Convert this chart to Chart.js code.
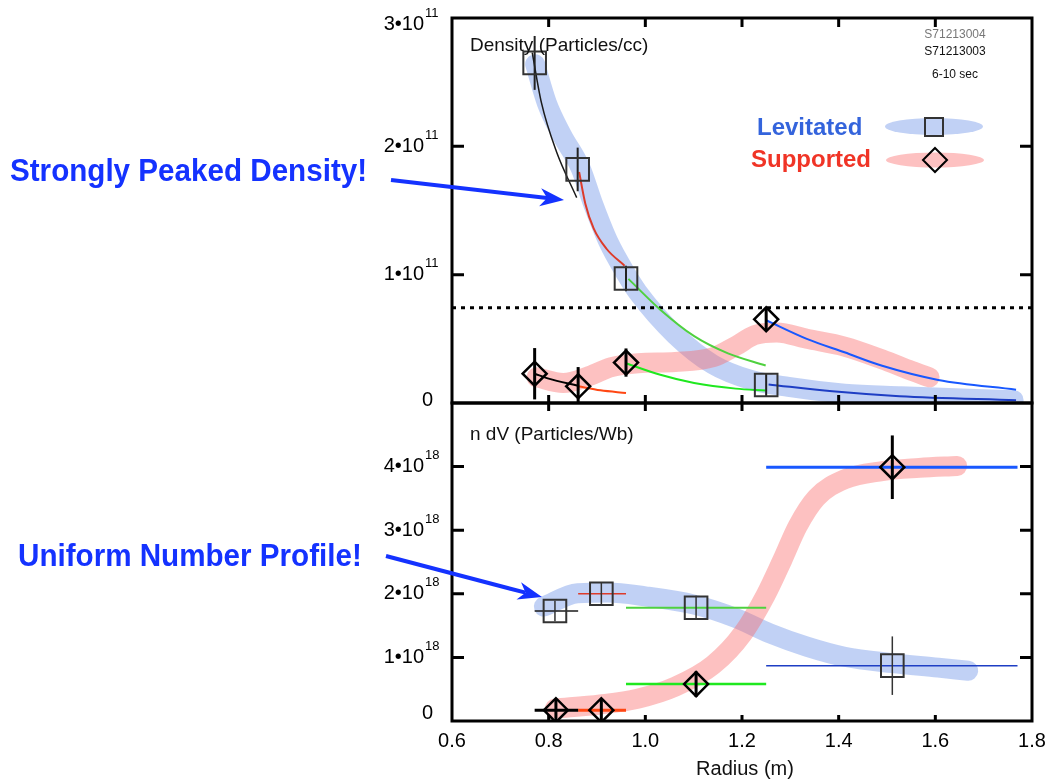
<!DOCTYPE html>
<html>
<head>
<meta charset="utf-8">
<title>Density and n dV profiles</title>
<script src="https://cdn.jsdelivr.net/npm/chart.js@4.4.0/dist/chart.umd.min.js"></script>
<style>
  html, body { margin: 0; padding: 0; background: #fff; }
  #wrap { position: relative; width: 1050px; height: 784px; overflow: hidden;
          font-family: "Liberation Sans", Arial, Helvetica, sans-serif; }
  #wrap canvas, #wrap svg { position: absolute; left: 0; top: 0; }
  .lbl { position: absolute; white-space: nowrap; line-height: 1; transform-origin: 0 0; }
</style>
</head>
<body>
<div id="wrap">
  <canvas id="top" width="1050" height="784"></canvas>
  <canvas id="bot" width="1050" height="784"></canvas>
  <svg id="ann" width="1050" height="784"></svg>
</div>
<script>
// ---- Radius-akse (felles) ----
const xTicks = [0.6, 0.8, 1.0, 1.2, 1.4, 1.6, 1.8];

// ---- Øvre panel: tetthet, enhet 1e11 partikler/cc ----
const densTicks = [0, 1, 2, 3];
const densLimit = 0.743; // prikket linje

const levDensR   = [0.771, 0.860, 0.960, 1.250];
const levDens    = [2.65, 1.82, 0.97, 0.14];
const levDensErr = [0.21, 0.17, 0.10, 0.09];
const supDensR   = [0.771, 0.861, 0.960, 1.250];
const supDens    = [0.228, 0.13, 0.315, 0.652];
const supDensErr = [0.20, 0.15, 0.11, 0.09];

// tilpassede kurver per radialt intervall (levitated)
const levFitR = [
  [0.766, 0.785, 0.816, 0.858],
  [0.863, 0.876, 0.893, 0.920, 0.957],
  [0.965, 1.031, 1.101, 1.171, 1.249],
  [1.255, 1.387, 1.526, 1.767],
];
const levFit = [
  [2.73, 2.34, 1.96, 1.60],
  [1.80, 1.55, 1.36, 1.20, 1.07],
  [0.967, 0.727, 0.521, 0.387, 0.292],
  [0.145, 0.091, 0.053, 0.022],
];
// tilpassede kurver (supported)
const supFitR = [
  [0.771, 0.800, 0.861],
  [0.861, 0.907, 0.960],
  [0.960, 1.031, 1.101, 1.187, 1.249],
  [1.250, 1.334, 1.412, 1.490, 1.606, 1.767],
];
const supFit = [
  [0.228, 0.19, 0.135],
  [0.13, 0.099, 0.078],
  [0.31, 0.22, 0.156, 0.112, 0.097],
  [0.645, 0.50, 0.395, 0.29, 0.18, 0.104],
];

// brede bånd (håndtegnet trend)
const levBandR = [0.772, 0.796, 0.827, 0.866, 0.892, 0.923, 0.961, 0.985, 1.062, 1.140, 1.218, 1.296, 1.412, 1.529, 1.762];
const levBand  = [2.64, 2.34, 2.09, 1.83, 1.55, 1.26, 1.00, 0.86, 0.53, 0.30, 0.18, 0.125, 0.073, 0.053, 0.022];
const supBandR = [0.775, 0.830, 0.884, 0.930, 0.985, 1.062, 1.140, 1.187, 1.226, 1.272, 1.334, 1.412, 1.490, 1.551, 1.588];
const supBand  = [0.20, 0.155, 0.21, 0.28, 0.31, 0.32, 0.356, 0.444, 0.529, 0.55, 0.50, 0.44, 0.34, 0.25, 0.20];

// ---- Nedre panel: n dV, enhet 1e18 partikler/Wb ----
const ndvTicks = [0, 1, 2, 3, 4];
const binLo = [0.771, 0.861, 0.960, 1.250];
const binHi = [0.861, 0.960, 1.250, 1.770];

const levNdvR   = [0.813, 0.909, 1.105, 1.511];
const levNdv    = [1.73, 2.00, 1.78, 0.87];
const levNdvErr = [0.16, 0.17, 0.19, 0.46];
const supNdvR   = [0.815, 0.909, 1.105, 1.511];
const supNdv    = [0.17, 0.17, 0.58, 3.99];
const supNdvErr = [0.17, 0.18, 0.20, 0.50];

const levBandNR = [0.790, 0.860, 0.922, 1.000, 1.101, 1.187, 1.257, 1.334, 1.412, 1.511, 1.606, 1.668];
const levBandN  = [1.80, 2.01, 2.02, 1.96, 1.83, 1.62, 1.38, 1.17, 1.01, 0.91, 0.84, 0.79];
const supBandNR = [0.813, 0.907, 0.984, 1.062, 1.140, 1.202, 1.249, 1.284, 1.315, 1.354, 1.412, 1.490, 1.567, 1.645];
const supBandN  = [0.195, 0.26, 0.35, 0.54, 0.88, 1.38, 1.98, 2.54, 3.06, 3.51, 3.80, 3.93, 3.98, 4.01];

// ---- Stil ----
const FONT = '"Liberation Sans", Arial, Helvetica, sans-serif';
const levBandCol = "rgba(100,140,230,0.4)";
const supBandCol = "rgba(250,100,100,0.4)";
const levFitCols = ["#1a1a1a", "#dd3b2a", "#4fd13f", "#1e3ec4"];
const supFitCols = ["#000000", "#ff4713", "#1fe81f", "#1858ff"];
const annBlue = "#1432ff";

const pts = (xs, ys) => xs.map((x, i) => ({ x, y: ys[i] }));
const curve = (xs, ys, color, width, order) => ({
  data: pts(xs, ys), showLine: true, borderColor: color, borderWidth: width, pointRadius: 0,
  tension: 0.4, cubicInterpolationMode: "monotone", order,
});
const band = (xs, ys, color) => ({
  data: pts(xs, ys), showLine: true, borderColor: color, borderWidth: 20, pointRadius: 0,
  tension: 0.4, cubicInterpolationMode: "monotone", borderCapStyle: "round", borderJoinStyle: "round", order: 20,
});
const vbars = (xs, ys, es, color, width) => xs.map((x, i) => ({
  data: [{ x, y: ys[i] - es[i] }, { x, y: ys[i] + es[i] }], showLine: true,
  borderColor: color, borderWidth: width, pointRadius: 0, order: 5,
}));
const hbars = (ys, colors, widths) => ys.map((y, i) => ({
  data: [{ x: binLo[i], y }, { x: binHi[i], y }], showLine: true,
  borderColor: colors[i], borderWidth: widths[i], pointRadius: 0, order: 6,
}));
const markers = (xs, ys, style, radius, color, width) => ({
  data: pts(xs, ys), showLine: false, pointStyle: style, pointRadius: radius,
  pointBackgroundColor: "rgba(0,0,0,0)", pointBorderColor: color, pointBorderWidth: width, order: 0,
});

// ramme, innadvendte tikkmerker og aksetekster
const framePlugin = {
  id: "frame",
  afterDraw(chart, args, o) {
    const { ctx, chartArea: a } = chart;
    const x = chart.scales.x, y = chart.scales.y;
    ctx.save();
    ctx.strokeStyle = "#000";
    ctx.lineWidth = 3;
    ctx.strokeRect(a.left, a.top, a.right - a.left, a.bottom - a.top);
    ctx.beginPath();
    xTicks.forEach((v) => {
      if (v <= x.min + 1e-9 || v >= x.max - 1e-9) return;
      const px = x.getPixelForValue(v);
      ctx.moveTo(px, a.top); ctx.lineTo(px, a.top + o.xTickTop);
      ctx.moveTo(px, a.bottom); ctx.lineTo(px, a.bottom - o.xTickBottom);
    });
    o.yTicks.forEach((v) => {
      if (v <= y.min || v >= y.max) return;
      const py = y.getPixelForValue(v);
      ctx.moveTo(a.left, py); ctx.lineTo(a.left + 12, py);
      ctx.moveTo(a.right, py); ctx.lineTo(a.right - 12, py);
    });
    ctx.stroke();

    ctx.fillStyle = "#000";
    ctx.textBaseline = "middle";
    o.yTicks.forEach((v) => {
      let py = y.getPixelForValue(v);
      ctx.font = "20px " + FONT;
      ctx.textAlign = "right";
      if (v === 0) { ctx.fillText("0", 433, py + o.zeroShift); return; }
      py = Math.max(py, a.top + 6);
      ctx.fillText(v + "\u202210", 424, py);
      ctx.font = "13px " + FONT;
      ctx.textAlign = "left";
      ctx.fillText(o.exp, 425, py - 11);
    });
    if (o.xLabels) {
      ctx.font = "20px " + FONT;
      ctx.textAlign = "center";
      ctx.textBaseline = "alphabetic";
      xTicks.forEach((v) => ctx.fillText(v.toFixed(1), x.getPixelForValue(v), a.bottom + 26));
    }
    ctx.restore();
  },
};

function options(yMax, pad, frame) {
  return {
    responsive: false, animation: false, events: [],
    layout: { padding: pad },
    plugins: { legend: { display: false }, tooltip: { enabled: false }, frame },
    scales: {
      x: { type: "linear", min: 0.6, max: 1.8, display: false },
      y: { type: "linear", min: 0, max: yMax, display: false },
    },
  };
}

// ---- Øvre diagram ----
const topSets = [
  markers(levDensR, levDens, "rect", 16, "#333", 2),
  markers(supDensR, supDens, "rectRot", 12, "#000", 2.5),
  ...vbars(levDensR, levDens, levDensErr, "#222", 2),
  ...vbars(supDensR, supDens, supDensErr, "#000", 3),
  ...levFitR.map((xs, i) => curve(xs, levFit[i], levFitCols[i], i === 0 ? 1.5 : 2, 10)),
  ...supFitR.map((xs, i) => curve(xs, supFit[i], supFitCols[i], 2, 10)),
  { data: [{ x: 0.6, y: densLimit }, { x: 1.8, y: densLimit }], showLine: true, borderColor: "#000",
    borderWidth: 3, borderDash: [4, 5], pointRadius: 0, order: 12 },
  band(supBandR, supBand, supBandCol),
  band(levBandR, levBand, levBandCol),
];
new Chart(document.getElementById("top"), {
  type: "scatter",
  data: { datasets: topSets },
  options: options(3, { left: 452, right: 17, top: 15, bottom: 381 },
    { yTicks: densTicks, exp: "11", zeroShift: -3, xTickTop: 9, xTickBottom: 8, xLabels: false }),
  plugins: [framePlugin],
});

// ---- Nedre diagram ----
const botSets = [
  markers(levNdvR, levNdv, "rect", 16, "#333", 2),
  markers(supNdvR, supNdv, "rectRot", 12, "#000", 2.5),
  ...vbars(levNdvR, levNdv, levNdvErr, "#333", 1.5),
  ...vbars(supNdvR, supNdv, supNdvErr, "#000", 3),
  ...hbars(levNdv, levFitCols, [1.5, 1.5, 2, 1.5]),
  ...hbars(supNdv, supFitCols, [3, 3, 2.5, 3]),
  band(supBandNR, supBandN, supBandCol),
  band(levBandNR, levBandN, levBandCol),
];
new Chart(document.getElementById("bot"), {
  type: "scatter",
  data: { datasets: botSets },
  options: options(5, { left: 452, right: 17, top: 403, bottom: 63 },
    { yTicks: ndvTicks, exp: "18", zeroShift: -8, xTickTop: 8, xTickBottom: 6, xLabels: true }),
  plugins: [framePlugin],
});

// ---- Tekst (HTML) ----
const wrap = document.getElementById("wrap");
function label(text, x, base, size, { bold = false, color = "#111", align = "left", sx = 1 } = {}) {
  const d = document.createElement("div");
  d.className = "lbl";
  d.textContent = text;
  d.style.fontSize = size + "px";
  d.style.fontWeight = bold ? "bold" : "normal";
  d.style.color = color;
  d.style.left = x + "px";
  d.style.top = (base - 0.8465 * size) + "px";
  if (align === "center") d.style.transform = "translateX(-50%)";
  else if (sx !== 1) d.style.transform = `scaleX(${sx})`;
  wrap.appendChild(d);
}
label("Strongly Peaked Density!", 10, 182, 31.5, { bold: true, color: annBlue, sx: 0.94 });
label("Uniform Number Profile!", 18, 567, 31.5, { bold: true, color: annBlue, sx: 0.94 });
label("Density (Particles/cc)", 470, 51, 19);
label("n dV (Particles/Wb)", 470, 440, 19);
label("S71213004", 955, 38, 12, { color: "#777", align: "center" });
label("S71213003", 955, 55, 12, { align: "center" });
label("6-10 sec", 955, 78, 12, { align: "center" });
label("Levitated", 757, 135, 24, { bold: true, color: "#3464dc" });
label("Supported", 751, 167, 24, { bold: true, color: "#f03426" });
label("Radius (m)", 745, 775, 20, { align: "center" });

// ---- Piler og tegnforklaring (SVG) ----
function arrow(x1, y1, x2, y2) {
  const dx = x2 - x1, dy = y2 - y1, L = Math.hypot(dx, dy);
  const ux = dx / L, uy = dy / L, px = -uy, py = ux;
  const hl = 24, hw = 9, notch = 17;
  const bx = x2 - ux * hl, by = y2 - uy * hl;
  const nx = x2 - ux * notch, ny = y2 - uy * notch;
  return `<line x1="${x1}" y1="${y1}" x2="${nx}" y2="${ny}" stroke="${annBlue}" stroke-width="4"/>` +
    `<polygon fill="${annBlue}" points="${x2},${y2} ${bx + px * hw},${by + py * hw} ${nx},${ny} ${bx - px * hw},${by - py * hw}"/>`;
}
document.getElementById("ann").innerHTML =
  arrow(391, 180, 564, 200) +
  arrow(386, 556, 542, 597) +
  `<ellipse cx="934" cy="126.5" rx="49" ry="8.5" fill="rgb(193,209,245)"/>` +
  `<ellipse cx="935" cy="160" rx="49" ry="7.5" fill="rgb(253,193,193)"/>` +
  `<rect x="925" y="118" width="18" height="18" fill="none" stroke="#333" stroke-width="2"/>` +
  `<polygon points="935,148 947,160 935,172 923,160" fill="none" stroke="#000" stroke-width="2"/>`;
</script>
</body>
</html>
